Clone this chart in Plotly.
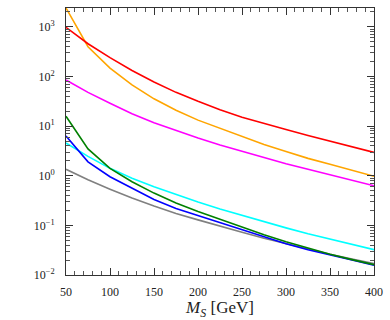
import plotly.graph_objects as go

mass = [50, 75, 100, 125, 150, 175, 200, 225, 250, 275, 300, 325, 350, 375, 400]

red = [977, 457, 240, 132, 77.6, 47.9, 31.6, 21.4, 15.1, 11.2, 8.51, 6.46, 5.01, 3.80, 2.95]
orange = [2400, 398, 148, 67.6, 35.5, 20.9, 13.2, 9.12, 6.31, 4.27, 3.09, 2.24, 1.70, 1.29, 0.977]
magenta = [85.1, 47.9, 28.8, 17.8, 11.7, 8.13, 5.75, 4.17, 3.09, 2.29, 1.74, 1.35, 1.05, 0.81, 0.63]
green = [15.8, 3.47, 1.41, 0.759, 0.447, 0.282, 0.191, 0.132, 0.0933, 0.0646, 0.0468, 0.0347, 0.0263, 0.0204, 0.0162]
blue = [6.31, 1.91, 0.955, 0.562, 0.331, 0.219, 0.158, 0.112, 0.0794, 0.0575, 0.0427, 0.0324, 0.0251, 0.0200, 0.0158]
cyan = [4.57, 2.45, 1.41, 0.891, 0.603, 0.417, 0.295, 0.214, 0.158, 0.117, 0.0891, 0.0676, 0.0525, 0.0407, 0.0324]
gray = [1.35, 0.832, 0.537, 0.355, 0.245, 0.174, 0.129, 0.0955, 0.0724, 0.0550, 0.0427, 0.0331, 0.0263, 0.0209, 0.0170]

ytick_vals = [0.01, 0.1, 1, 10, 100, 1000]
ytick_text = ["10<sup>−2</sup>", "10<sup>−1</sup>", "10<sup>0</sup>", "10<sup>1</sup>", "10<sup>2</sup>", "10<sup>3</sup>"]
xtick_vals = [50, 100, 150, 200, 250, 300, 350, 400]

series = [
    (gray, "#808080"),
    (cyan, "#00ffff"),
    (blue, "#0000ff"),
    (green, "#008000"),
    (magenta, "#ff00ff"),
    (orange, "#ffa500"),
    (red, "#ff0000"),
]

y_minor = [m * d for d in ytick_vals for m in range(2, 10)]

fig = go.Figure()
for vals, col in series:
    fig.add_trace(go.Scatter(x=mass, y=vals, mode="lines",
                             line=dict(color=col, width=1.6), showlegend=False))

font = "Liberation Serif"
fig.update_layout(
    width=390, height=320,
    margin=dict(l=66, r=14, t=7, b=42),
    paper_bgcolor="white", plot_bgcolor="white",
    font=dict(family=font, color="#222", size=12),
)
fig.update_xaxes(
    range=[50, 400], tickvals=xtick_vals, ticks="inside", ticklen=7, tickwidth=1,
    tickcolor="#333", showline=True, linecolor="#333", linewidth=1, mirror="allticks",
    showgrid=False, zeroline=False, ticklabelstandoff=6,
    minor=dict(dtick=10, ticks="inside", ticklen=4, tickcolor="#555", showgrid=False),
    tickfont=dict(family=font, size=12),
    title=dict(text="<i>M</i><sub><i>S</i></sub> [GeV]", font=dict(family=font, size=17), standoff=2),
)
fig.update_yaxes(
    type="log", range=[-2, 3.38], tickvals=ytick_vals, ticktext=ytick_text,
    ticks="inside", ticklen=7, tickwidth=1, tickcolor="#333",
    showline=True, linecolor="#333", linewidth=1, mirror="allticks",
    showgrid=False, zeroline=False, ticklabelstandoff=8,
    minor=dict(tickmode="array", tickvals=y_minor, ticks="inside", ticklen=4,
               tickcolor="#555", showgrid=False),
    tickfont=dict(family=font, size=12),
)

fig.write_html("out.html", config={"displayModeBar": False},
               post_script="document.body.style.margin='0';document.body.style.overflow='hidden';")
